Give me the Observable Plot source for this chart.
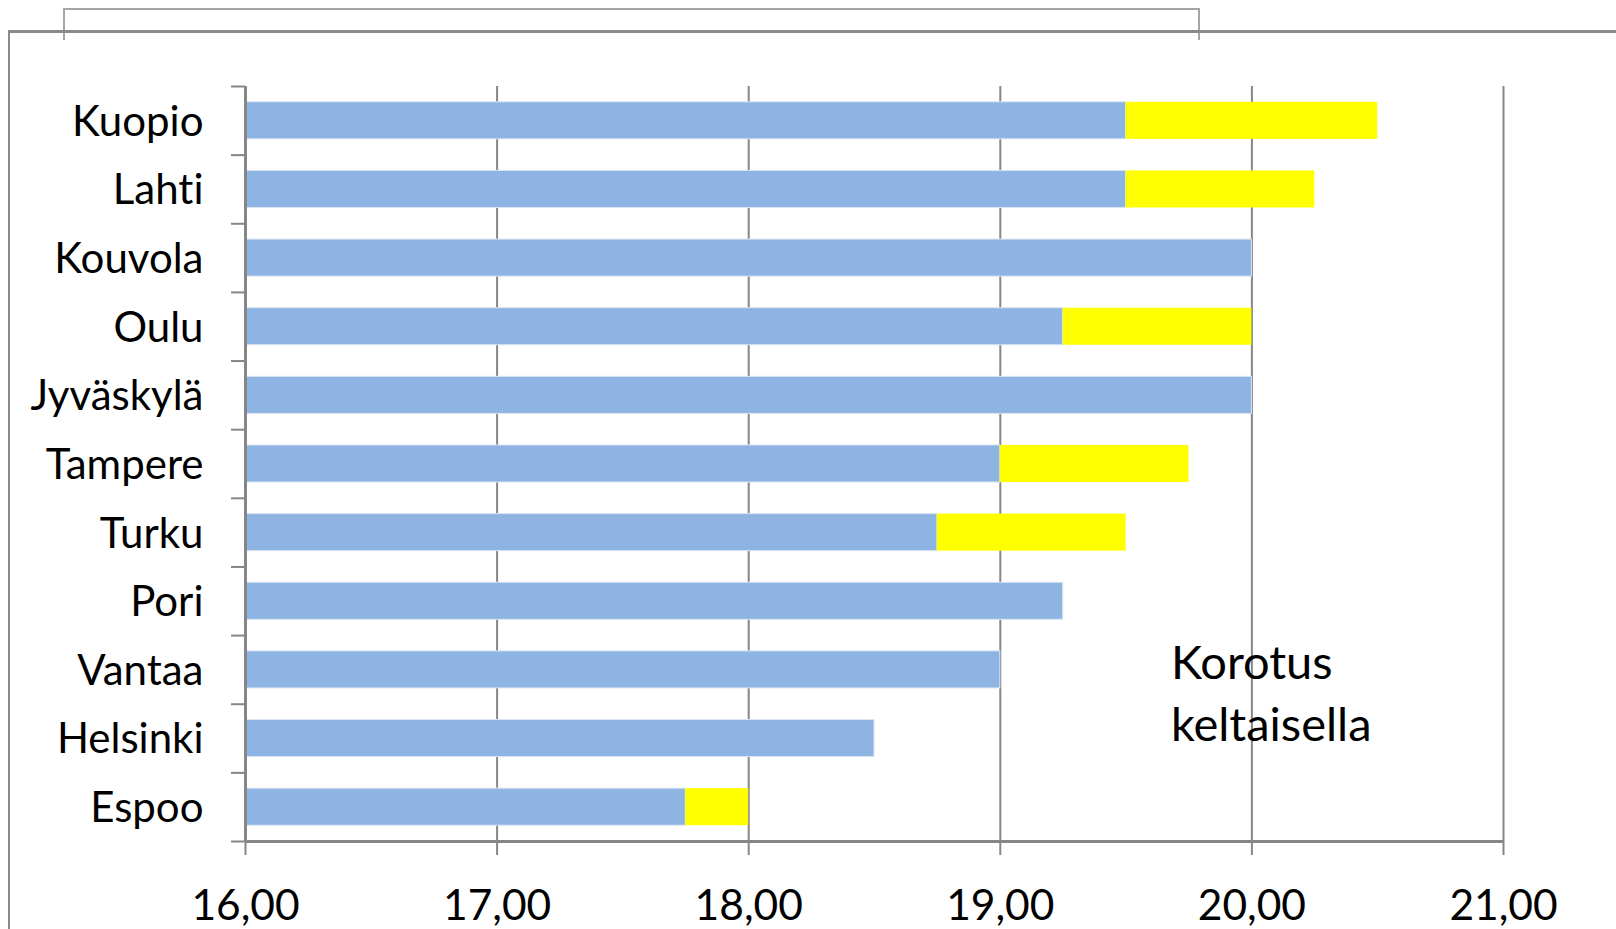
<!DOCTYPE html>
<html>
<head>
<meta charset="utf-8">
<script src="https://cdn.jsdelivr.net/npm/d3@7"></script>
<script src="https://cdn.jsdelivr.net/npm/@observablehq/plot@0.6"></script>
<style>
  html, body { margin: 0; padding: 0; background: #fff; }
  #wrap { position: relative; width: 1616px; height: 929px; overflow: hidden; background: #fff; }
  #chart { position: absolute; left: 0; top: 0; }
  #chart svg text { font-variant-ligatures: none; font-feature-settings: "liga" 0, "clig" 0; }
  .outer { position: absolute; left: 8px; top: 30px; width: 1640px; height: 960px; border-left: 2px solid #8a8a8a; border-top: 3px solid #8a8a8a; }
  .topbox { position: absolute; left: 63px; top: 8px; width: 1133px; height: 30px; border: 2px solid #a6a6a6; border-bottom: none; }
</style>
</head>
<body>
<div id="wrap">
  <div class="topbox"></div>
  <div class="outer"></div>
  <div id="chart"></div>
</div>
<script>
const categories = ["Kuopio", "Lahti", "Kouvola", "Oulu", "Jyväskylä", "Tampere", "Turku", "Pori", "Vantaa", "Helsinki", "Espoo"];
const baseValues = [19.5, 19.5, 20.0, 19.25, 20.0, 19.0, 18.75, 19.25, 19.0, 18.5, 17.75];
const increases = [1.0, 0.75, 0, 0.75, 0, 0.75, 0.75, 0, 0, 0, 0.25];
const xTicks = [16, 17, 18, 19, 20, 21];
const annotationLines = ["Korotus", "keltaisella"];

const rows = categories.map((c, i) => ({ c, i, base: baseValues[i], inc: increases[i] }));
const axisColor = "#868686";
const fmt = v => v.toFixed(2).replace(".", ",");

const chart = Plot.plot({
  width: 1616,
  height: 929,
  marginLeft: 245,
  marginRight: 113,
  marginTop: 86,
  marginBottom: 88,
  x: { domain: [16, 21] },
  y: { domain: [0, 11], reverse: true },
  style: { fontFamily: "Lato, 'Open Sans', sans-serif", fontSize: "42px", color: "#000", background: "transparent" },
  marks: [
    Plot.gridX(xTicks, { stroke: axisColor, strokeOpacity: 1, strokeWidth: 2 }),
    Plot.rect(rows, { x1: 16, x2: "base", y1: d => d.i + 0.23, y2: d => d.i + 0.77, fill: "#8EB4E3", stroke: "#dce6f2", strokeWidth: 1 }),
    Plot.rect(rows.filter(d => d.inc > 0), { x1: "base", x2: d => d.base + d.inc, y1: d => d.i + 0.23, y2: d => d.i + 0.77, fill: "#FFFF00" }),
    Plot.ruleX([16], { y1: 0, y2: 11, stroke: axisColor, strokeWidth: 3 }),
    Plot.ruleY([11], { x1: 16, x2: 21, stroke: axisColor, strokeWidth: 3 }),
    Plot.axisX(xTicks, { tickSize: 14, tickPadding: 34, tickFormat: fmt, stroke: axisColor, strokeWidth: 2, fontSize: 42.5, label: null }),
    Plot.axisY(d3.range(12), { tickSize: 14, tickFormat: () => "", stroke: axisColor, strokeWidth: 2, label: null }),
    Plot.axisY(rows.map(d => d.i + 0.5), { tickSize: 0, tickPadding: 42, tickFormat: v => categories[Math.floor(v)], fontSize: 42, dy: 1.5, label: null }),
    Plot.text([annotationLines.join("\n")], { x: 19.678, y: 7.99, text: d => d, textAnchor: "start", lineAnchor: "top", lineHeight: 1.32, fontSize: 47, fill: "#000" })
  ]
});
document.getElementById("chart").appendChild(chart);
</script>
</body>
</html>
